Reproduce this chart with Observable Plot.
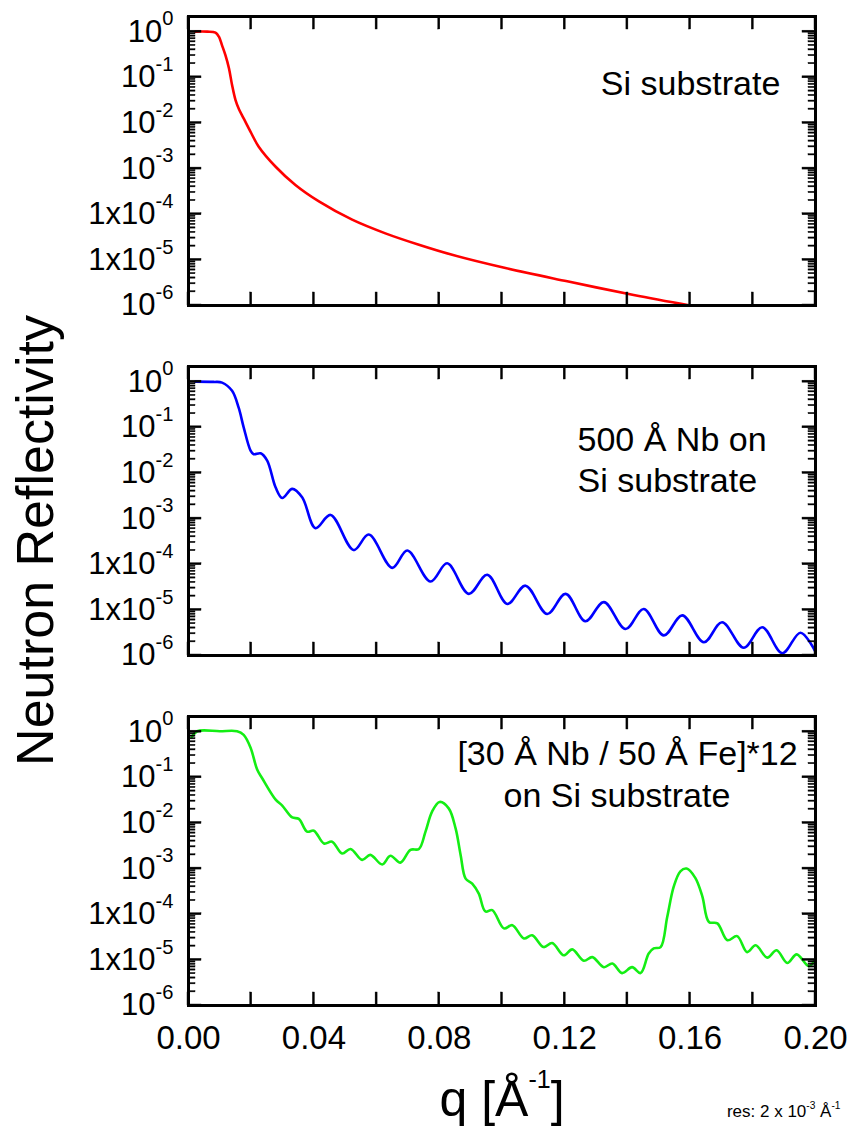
<!DOCTYPE html>
<html>
<head>
<meta charset="utf-8">
<script src="https://cdn.jsdelivr.net/npm/d3@7"></script>
<script src="https://cdn.jsdelivr.net/npm/@observablehq/plot@0.6"></script>
<style>
  html, body { margin: 0; padding: 0; background: #ffffff; }
  #chart svg { display: block; }
</style>
</head>
<body>
<div id="chart"></div>
<script>
// ---------------- data ----------------
const panels = ["Si", "Nb", "NbFe"];
const panelColors = ["#ff0000", "#0000ff", "#14ee14"];

const qTicks = [0, 0.02, 0.04, 0.06, 0.08, 0.10, 0.12, 0.14, 0.16, 0.18, 0.20];
const qLabelValues = [0, 0.04, 0.08, 0.12, 0.16, 0.20];
const qLabels = ["0.00", "0.04", "0.08", "0.12", "0.16", "0.20"];

const rMajor = [1e-6, 1e-5, 1e-4, 1e-3, 1e-2, 1e-1, 1];
const rMajorLabels = ["10^{-6}", "1x10^{-5}", "1x10^{-4}", "10^{-3}", "10^{-2}", "10^{-1}", "10^{0}"];

// Si substrate (red): q [1/Å], log10 R
const siQ = [0.0022, 0.0060, 0.0086, 0.0097, 0.0107, 0.0118, 0.0129, 0.0139, 0.0150, 0.0161, 0.0176, 0.0200,
  0.0224, 0.0278, 0.0341, 0.0416, 0.0522, 0.0628, 0.0735, 0.0841, 0.1011, 0.1208, 0.1420, 0.1600];
const siLogR = [0.00, 0.00, -0.02, -0.11, -0.30, -0.52, -0.80, -1.17, -1.50, -1.70, -1.90, -2.22,
  -2.52, -2.96, -3.36, -3.72, -4.12, -4.42, -4.67, -4.89, -5.18, -5.47, -5.77, -6.00];

// 500 Å Nb on Si (blue)
const nbQ = [0.0022, 0.0080, 0.0107, 0.0139, 0.0160, 0.0176, 0.0198, 0.0208, 0.0230, 0.0251, 0.0278, 0.0299,
  0.0331, 0.0363, 0.0405, 0.0453, 0.0527, 0.0575, 0.0650, 0.0698, 0.0772, 0.0825, 0.0894, 0.0953,
  0.1017, 0.1075, 0.1144, 0.1203, 0.1266, 0.1325, 0.1394, 0.1452, 0.1516, 0.1575, 0.1644, 0.1702,
  0.1771, 0.1830, 0.1894, 0.1952, 0.2000];
const nbLogR = [0.00, -0.005, -0.02, -0.20, -0.57, -1.00, -1.51, -1.59, -1.57, -1.73, -2.32, -2.55,
  -2.35, -2.54, -3.21, -2.92, -3.69, -3.35, -4.08, -3.70, -4.38, -3.98, -4.65, -4.23,
  -4.87, -4.47, -5.09, -4.65, -5.25, -4.83, -5.42, -4.98, -5.56, -5.12, -5.71, -5.27,
  -5.83, -5.38, -5.95, -5.50, -5.92];

// [30 Å Nb / 50 Å Fe]*12 on Si (green)
const mlQ = [0.0010, 0.0028, 0.0100, 0.0155, 0.0176, 0.0198, 0.0219, 0.0235, 0.0278, 0.0299, 0.0331, 0.0352,
  0.0378, 0.0400, 0.0432, 0.0458, 0.0490, 0.0517, 0.0554, 0.0580, 0.0618, 0.0644, 0.0676, 0.0708,
  0.0735, 0.0756, 0.0777, 0.0801, 0.0830, 0.0852, 0.0868, 0.0884, 0.0905, 0.0926, 0.0947, 0.0969,
  0.1006, 0.1033, 0.1070, 0.1096, 0.1133, 0.1160, 0.1197, 0.1224, 0.1261, 0.1288, 0.1325, 0.1352,
  0.1383, 0.1415, 0.1442, 0.1468, 0.1484, 0.1506, 0.1527, 0.1548, 0.1569, 0.1589, 0.1617, 0.1639,
  0.1660, 0.1687, 0.1719, 0.1750, 0.1782, 0.1809, 0.1846, 0.1876, 0.1910, 0.1940, 0.1979, 0.2000];
const mlLogR = [-0.12, 0.01, 0.01, 0.01, -0.07, -0.35, -0.83, -1.02, -1.49, -1.62, -1.88, -1.91,
  -2.19, -2.17, -2.45, -2.41, -2.67, -2.57, -2.81, -2.70, -2.91, -2.72, -2.87, -2.59,
  -2.57, -2.19, -1.75, -1.54, -1.68, -2.12, -2.70, -3.22, -3.33, -3.55, -3.94, -3.91,
  -4.31, -4.24, -4.53, -4.46, -4.72, -4.63, -4.90, -4.77, -5.02, -4.94, -5.16, -5.08,
  -5.29, -5.16, -5.29, -4.86, -4.75, -4.72, -4.06, -3.39, -3.06, -3.00, -3.21, -3.61,
  -4.17, -4.20, -4.57, -4.48, -4.83, -4.68, -4.95, -4.79, -5.07, -4.88, -5.14, -4.97];

const annSi = "Si substrate";
const annNb = "500 Å Nb on\nSi substrate";
const annMl1 = "[30 Å Nb / 50 Å Fe]*12";
const annMl2 = "on Si substrate";
const yTitle = "Neutron Reflectivity";
const xTitle = "q [Å^{-1}]";
const resNote = "res: 2 x 10^{-3} Å^{-1}";

// ---------------- build ----------------
const toRows = (qs, logs) => qs.map((q, i) => ({q, r: Math.pow(10, logs[i])}));
const siRows = toRows(siQ, siLogR);
const nbRows = toRows(nbQ, nbLogR);
const mlRows = toRows(mlQ, mlLogR);

const rMinor = [];
for (const d of rMajor.slice(0, -1)) for (let m = 2; m <= 9; m++) rMinor.push(m * d);
const rLabelMap = new Map(rMajor.map((v, i) => [v, rMajorLabels[i]]));
const qLabelMap = new Map(qLabelValues.map((v, i) => [v, qLabels[i]]));
const perPanel = vals => panels.flatMap(p => vals.map(v => ({p, v})));
const qTickRows = perPanel(qTicks);
const rMajorRows = perPanel(rMajor);
const rMinorRows = perPanel(rMinor);

const W = 852, H = 1128;
const mL = 188, mR = 37, mT = 15, mB = 123;
const fyPad = 0.1755;
const xDom = [0, 0.2], yDom = [1e-6, 2.15];
const frameW = W - mL - mR;
const bandH = (H - mT - mB) * (1 - fyPad) / (panels.length - fyPad);
const pxPerDecade = bandH / Math.log10(yDom[1] / yDom[0]);
const qPerPx = (xDom[1] - xDom[0]) / frameW;
const qAt = px => xDom[0] + px * qPerPx;
const rAt = (ref, px) => ref * Math.pow(10, px / pxPerDecade);
const majLen = 13, minLen = 7;
const majHalf = 1.0, minHalf = 0.65;   // half thickness of tick bars (px)
const tickFill = {fill: "#000", stroke: "#000", strokeWidth: 0.4};

const fig = Plot.plot({
  width: W,
  height: H,
  marginLeft: mL, marginRight: mR, marginTop: mT, marginBottom: mB,
  style: {fontFamily: "'Liberation Sans', Arial, Helvetica, sans-serif", background: "#ffffff", color: "#000000"},
  x: {domain: xDom},
  y: {type: "log", domain: yDom},
  fy: {domain: panels, padding: fyPad, axis: null},
  marks: [
    // curves
    Plot.line(siRows, {x: "q", y: "r", fy: () => panels[0], stroke: panelColors[0], strokeWidth: 2.6, curve: "catmull-rom"}),
    Plot.line(nbRows, {x: "q", y: "r", fy: () => panels[1], stroke: panelColors[1], strokeWidth: 2.6, curve: "catmull-rom"}),
    Plot.line(mlRows, {x: "q", y: "r", fy: () => panels[2], stroke: panelColors[2], strokeWidth: 2.6, curve: "catmull-rom"}),
    // inward ticks on all four sides of every panel (thin bars placed through the scales)
    Plot.rect(qTickRows, {fy: "p", x1: d => d.v - majHalf * qPerPx, x2: d => d.v + majHalf * qPerPx,
      y1: () => yDom[1], y2: () => rAt(yDom[1], -majLen), ...tickFill}),
    Plot.rect(qTickRows, {fy: "p", x1: d => d.v - majHalf * qPerPx, x2: d => d.v + majHalf * qPerPx,
      y1: () => yDom[0], y2: () => rAt(yDom[0], majLen), ...tickFill}),
    Plot.rect(rMajorRows, {fy: "p", y1: d => rAt(d.v, -majHalf), y2: d => rAt(d.v, majHalf),
      x1: () => xDom[0], x2: () => qAt(majLen), ...tickFill}),
    Plot.rect(rMajorRows, {fy: "p", y1: d => rAt(d.v, -majHalf), y2: d => rAt(d.v, majHalf),
      x1: () => qAt(frameW - majLen), x2: () => xDom[1], ...tickFill}),
    Plot.rect(rMinorRows, {fy: "p", y1: d => rAt(d.v, -minHalf), y2: d => rAt(d.v, minHalf),
      x1: () => xDom[0], x2: () => qAt(minLen), ...tickFill}),
    Plot.rect(rMinorRows, {fy: "p", y1: d => rAt(d.v, -minHalf), y2: d => rAt(d.v, minHalf),
      x1: () => qAt(frameW - minLen), x2: () => xDom[1], ...tickFill}),
    Plot.frame({stroke: "#000", strokeWidth: 3}),
    // tick labels
    Plot.axisY({ticks: rMajor, tickSize: 0, tickPadding: 15, tickFormat: d => rLabelMap.get(d), fontSize: 31, label: null}),
    Plot.axisX({ticks: qLabelValues, tickSize: 0, tickPadding: 20, tickFormat: d => qLabelMap.get(d), fontSize: 33, label: null}),
    // annotations
    Plot.text([annSi], {text: d => d, fy: () => panels[0], x: () => 0.1888, y: () => 0.0718, textAnchor: "end", fontSize: 34, fill: "#000"}),
    Plot.text([annNb], {text: d => d, fy: () => panels[1], x: () => 0.1241, y: () => 0.0209, textAnchor: "start", fontSize: 34, lineHeight: 1.2, fill: "#000"}),
    Plot.text([annMl1], {text: d => d, fy: () => panels[2], x: () => 0.1943, y: () => 0.319, textAnchor: "end", fontSize: 34, fill: "#000"}),
    Plot.text([annMl2], {text: d => d, fy: () => panels[2], x: () => 0.1005, y: () => 0.038, textAnchor: "start", fontSize: 34, fill: "#000"}),
    // axis titles & note (placed through the scales, outside the frame)
    Plot.text([yTitle], {text: d => d, fy: () => panels[1], x: () => qAt(35.4 - mL), y: () => rAt(yDom[0], 655 - 540), rotate: -90, fontSize: 52, fill: "#000"}),
    Plot.text([xTitle], {text: d => d, fy: () => panels[2], x: () => 0.1, y: () => rAt(yDom[0], -94), fontSize: 50, fill: "#000"}),
    Plot.text([resNote], {text: d => d, fy: () => panels[2], x: () => qAt(840 - mL), y: () => rAt(yDom[0], -106), textAnchor: "end", fontSize: 17, fill: "#000"})
  ]
});

document.getElementById("chart").appendChild(fig);

// superscript rendering for "^{...}" markers (text stays real text)
function supify(t) {
  const s = t.textContent;
  if (!s.includes("^{")) return;
  const fs = parseFloat(getComputedStyle(t).fontSize) || 16;
  let ratio = 0.65, shift = 0.52;
  if (fs > 40) { ratio = 0.5; shift = 0.55; }
  else if (fs < 20) { ratio = 0.6; shift = 0.45; }
  const supSize = fs * ratio, dy = fs * shift;
  const parts = s.split(/\^\{([^}]*)\}/);
  while (t.firstChild) t.removeChild(t.firstChild);
  const ns = "http://www.w3.org/2000/svg";
  let raised = false;
  parts.forEach((p, i) => {
    if (p === "") { return; }
    const ts = document.createElementNS(ns, "tspan");
    ts.textContent = p;
    if (i % 2 === 1) {
      ts.setAttribute("font-size", supSize);
      if (!raised) { ts.setAttribute("dy", -dy); raised = true; }
    } else if (raised) {
      ts.setAttribute("dy", dy);
      raised = false;
    }
    t.appendChild(ts);
  });
}
fig.querySelectorAll("text").forEach(supify);
</script>
</body>
</html>
